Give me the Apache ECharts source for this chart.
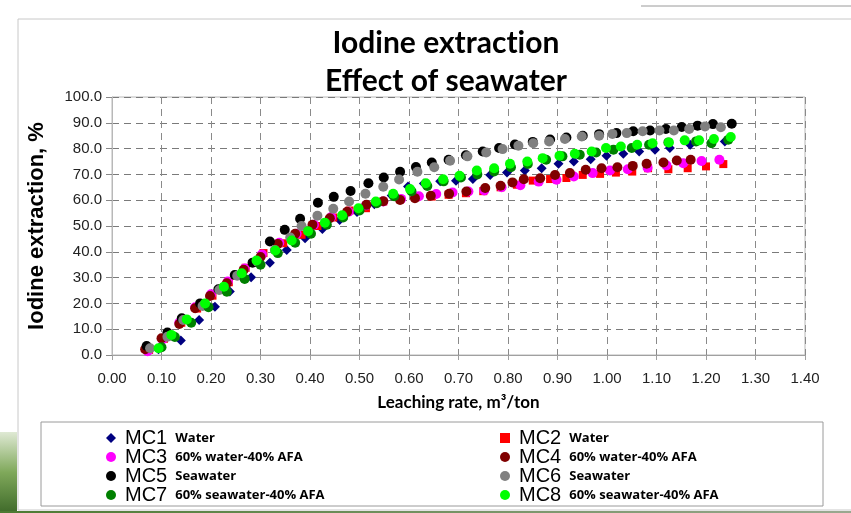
<!DOCTYPE html>
<html lang="en">
<head>
    <meta charset="utf-8">
    <title>Iodine extraction</title>
    <script src="https://cdn.jsdelivr.net/npm/echarts@6/dist/echarts.min.js"></script>
    <style>
        html, body { margin: 0; padding: 0; background: #fff; }
        #container { width: 851px; height: 513px; }
    </style>
</head>
<body>
<div id="container"></div>
<script>
    const seriesNames = ["MC1", "MC2", "MC3", "MC4", "MC5", "MC6", "MC7", "MC8"];
    const seriesNotes = ["Water", "Water", "60% water-40% AFA", "60% water-40% AFA",
        "Seawater", "Seawater", "60% seawater-40% AFA", "60% seawater-40% AFA"];
    const seriesColors = ["#000080", "#ff0000", "#ff00ff", "#800000", "#000000", "#808080", "#008000", "#00ff00"];
    const seriesSymbols = ["diamond", "rect", "circle", "circle", "circle", "circle", "circle", "circle"];

    // [leaching rate m3/ton, iodine extraction %]
    const mc1 = [[0.094, 2.2], [0.139, 5.6], [0.176, 13.6], [0.208, 18.7], [0.238, 24.6], [0.281, 30.1], [0.319, 35.8],
        [0.353, 40.7], [0.39, 45.3], [0.425, 48.8], [0.46, 52.3], [0.495, 55.4], [0.53, 58.4], [0.565, 61.8], [0.598, 65.3],
        [0.63, 66.5], [0.663, 67.3], [0.695, 67.5], [0.729, 68.2], [0.764, 69.8], [0.798, 70.7], [0.834, 71.5], [0.868, 72.4],
        [0.902, 74.1], [0.933, 75.0], [0.967, 75.9], [0.999, 77.2], [1.033, 78.0], [1.065, 78.9], [1.097, 79.6], [1.127, 80.2],
        [1.168, 81.5], [1.211, 82.4], [1.238, 82.8]];
    const mc2 = [[0.075, 2.0], [0.105, 6.3], [0.14, 12.5], [0.172, 18.0], [0.203, 23.0], [0.236, 28.2], [0.27, 33.8],
        [0.306, 39.5], [0.346, 43.3], [0.383, 46.6], [0.415, 50.0], [0.447, 53.3], [0.48, 56.0], [0.513, 56.9], [0.548, 59.5],
        [0.582, 60.4], [0.614, 61.2], [0.646, 61.4], [0.68, 62.1], [0.715, 62.7], [0.75, 63.5], [0.785, 65.0], [0.818, 66.0],
        [0.85, 67.6], [0.885, 68.2], [0.918, 68.6], [0.951, 69.8], [0.986, 70.2], [1.018, 70.7], [1.051, 71.1], [1.083, 72.4],
        [1.124, 72.0], [1.163, 72.4], [1.2, 73.1], [1.235, 74.0]];
    const mc3 = [[0.072, 1.5], [0.102, 6.0], [0.136, 12.5], [0.168, 18.5], [0.2, 23.5], [0.234, 28.5], [0.268, 33.5],
        [0.303, 39.0], [0.338, 43.5], [0.373, 47.0], [0.408, 50.5], [0.443, 53.5], [0.478, 55.5], [0.513, 58.0], [0.548, 59.5],
        [0.584, 60.5], [0.62, 61.5], [0.655, 62.4], [0.688, 63.0], [0.72, 63.4], [0.752, 63.8], [0.787, 65.0], [0.825, 65.8],
        [0.862, 67.2], [0.898, 67.9], [0.933, 69.2], [0.971, 70.5], [1.006, 71.5], [1.042, 72.0], [1.082, 72.6], [1.12, 73.5],
        [1.154, 74.3], [1.191, 75.2], [1.227, 75.7]];
    const mc4 = [[0.067, 2.2], [0.1, 6.5], [0.136, 12.0], [0.168, 18.1], [0.198, 22.9], [0.232, 27.8], [0.266, 33.0],
        [0.3, 38.0], [0.335, 43.0], [0.37, 47.0], [0.405, 50.5], [0.44, 53.0], [0.475, 55.5], [0.514, 58.2], [0.548, 59.6],
        [0.582, 60.1], [0.612, 60.8], [0.644, 61.7], [0.681, 62.5], [0.716, 63.4], [0.754, 64.7], [0.785, 65.6], [0.809, 66.9],
        [0.832, 68.1], [0.865, 68.5], [0.895, 69.8], [0.925, 70.5], [0.957, 71.8], [0.989, 72.4], [1.021, 72.8], [1.052, 73.3],
        [1.08, 74.1], [1.114, 74.6], [1.141, 75.4], [1.169, 75.7]];
    const mc5 = [[0.07, 3.5], [0.112, 8.7], [0.141, 14.2], [0.178, 20.0], [0.215, 25.5], [0.248, 31.0], [0.284, 35.8],
        [0.319, 44.0], [0.349, 48.5], [0.38, 52.8], [0.416, 59.0], [0.448, 61.3], [0.482, 63.6], [0.518, 66.6], [0.549, 68.8],
        [0.582, 71.0], [0.614, 72.9], [0.646, 74.6], [0.68, 75.7], [0.715, 77.4], [0.749, 78.9], [0.782, 80.2], [0.814, 81.6],
        [0.85, 82.6], [0.885, 83.5], [0.918, 84.3], [0.951, 85.0], [0.984, 85.6], [1.019, 86.0], [1.053, 86.7], [1.087, 87.0],
        [1.119, 87.6], [1.151, 88.4], [1.183, 88.9], [1.214, 89.5], [1.252, 89.6]];
    const mc6 = [[0.077, 2.6], [0.112, 7.1], [0.144, 13.6], [0.183, 19.0], [0.217, 25.2], [0.253, 30.7], [0.294, 36.2],
        [0.329, 40.7], [0.36, 45.5], [0.383, 50.0], [0.415, 54.0], [0.447, 56.7], [0.479, 59.5], [0.512, 62.5], [0.548, 65.2],
        [0.58, 68.0], [0.617, 71.0], [0.651, 72.8], [0.683, 75.3], [0.718, 77.0], [0.756, 78.5], [0.789, 79.8], [0.821, 81.1],
        [0.851, 82.1], [0.883, 82.8], [0.915, 83.7], [0.949, 84.7], [0.984, 85.0], [1.011, 85.7], [1.04, 86.0], [1.072, 86.7],
        [1.106, 87.0], [1.135, 87.0], [1.166, 87.6], [1.198, 88.6], [1.23, 88.3]];
    const mc7 = [[0.1, 3.0], [0.127, 7.0], [0.16, 12.5], [0.195, 18.5], [0.232, 24.5], [0.268, 29.5], [0.3, 35.0],
        [0.335, 39.5], [0.37, 43.5], [0.402, 47.0], [0.434, 50.5], [0.467, 53.3], [0.5, 56.0], [0.535, 58.8], [0.57, 61.5],
        [0.605, 63.5], [0.637, 65.5], [0.67, 67.3], [0.705, 68.8], [0.738, 70.0], [0.772, 71.1], [0.806, 72.8], [0.84, 74.0],
        [0.877, 75.7], [0.91, 77.0], [0.945, 77.6], [0.978, 78.5], [1.013, 79.6], [1.05, 80.2], [1.085, 81.5], [1.124, 82.4],
        [1.18, 82.8], [1.211, 82.1], [1.245, 83.4]];
    const mc8 = [[0.094, 2.6], [0.12, 7.8], [0.151, 13.8], [0.188, 20.0], [0.226, 26.5], [0.262, 31.7], [0.292, 36.6],
        [0.33, 40.5], [0.363, 44.4], [0.396, 48.0], [0.43, 51.3], [0.465, 54.2], [0.498, 56.9], [0.533, 59.5], [0.568, 62.5],
        [0.602, 64.3], [0.634, 66.6], [0.669, 68.1], [0.702, 69.5], [0.737, 71.5], [0.772, 72.4], [0.804, 74.1], [0.839, 75.0],
        [0.87, 76.3], [0.904, 77.2], [0.935, 78.0], [0.969, 78.9], [0.998, 80.2], [1.028, 80.8], [1.061, 81.5], [1.092, 82.1],
        [1.125, 82.4], [1.157, 83.2], [1.186, 83.2], [1.216, 83.7], [1.25, 84.5]];

    const seriesData = [mc1, mc2, mc3, mc4, mc5, mc6, mc7, mc8];

    const legendRich = {
        a: {
            fontFamily: "Liberation Sans Narrow, Liberation Sans, sans-serif",
            fontSize: 20,
            color: "#000",
            lineHeight: 19,
            padding: [0, 0, 0, 4]
        },
        b: {
            fontFamily: "Open Sans, sans-serif",
            fontWeight: "bold",
            fontSize: 13,
            color: "#000",
            lineHeight: 19,
            padding: [0, 0, 0, 8]
        }
    };

    function makeLegend(left, names) {
        return {
            orient: "vertical",
            left: left,
            top: 428,
            padding: 0,
            itemGap: -1,
            itemWidth: 10,
            itemHeight: 10,
            data: names,
            selectedMode: false,
            formatter: name => `{a|${name}}{b|${seriesNotes[seriesNames.indexOf(name)]}}`,
            textStyle: { lineHeight: 19, rich: legendRich }
        };
    }

    const series = seriesNames.map((name, i) => ({
        name: name,
        type: "scatter",
        data: seriesData[i],
        symbol: seriesSymbols[i],
        symbolSize: i === 1 ? 8 : 10,
        itemStyle: { color: seriesColors[i], opacity: 1 },
        emphasis: { disabled: true }
    }));

    const titleFont = {
        fontFamily: "Lato, sans-serif",
        fontWeight: "bold",
        fontSize: 30,
        lineHeight: 38,
        color: "#000"
    };

    const option = {
        animation: false,
        backgroundColor: "#fff",
        title: {
            // "t" and "i" go in separate tokens so they are not drawn as a ligature
            text: "{t|Iodine extract}{t|ion}\n{t|Effect of seawater}",
            left: 441,
            textAlign: "center",
            top: 19,
            textStyle: Object.assign({ rich: { t: titleFont } }, titleFont)
        },
        legend: [
            makeLegend(106, ["MC1", "MC3", "MC5", "MC7"]),
            makeLegend(500, ["MC2", "MC4", "MC6", "MC8"])
        ],
        grid: {
            left: 112,
            right: 46,
            top: 97,
            bottom: 158,
            show: true,
            borderColor: "#b8b8b8",
            borderWidth: 1
        },
        xAxis: {
            type: "value",
            min: 0,
            max: 1.4,
            interval: 0.1,
            name: "Leaching rate, m\u00b3/ton",
            nameLocation: "middle",
            nameGap: 39,
            nameTextStyle: {
                fontFamily: "Lato, sans-serif",
                fontWeight: "bold",
                fontSize: 17,
                color: "#000"
            },
            axisLine: { lineStyle: { color: "#a0a0a0" } },
            axisTick: { show: true, length: 5, lineStyle: { color: "#a0a0a0" } },
            axisLabel: {
                formatter: v => v.toFixed(2),
                fontFamily: "Liberation Sans, Arial, sans-serif",
                fontSize: 15,
                color: "#222",
                margin: 16
            },
            splitLine: { show: true, lineStyle: { color: "#8a8a8a", type: [7, 5] } }
        },
        yAxis: {
            type: "value",
            min: 0,
            max: 100,
            interval: 10,
            name: "Iodine extraction, %",
            nameLocation: "middle",
            nameGap: 64,
            nameTextStyle: {
                fontFamily: "Liberation Sans, Arial, sans-serif",
                fontWeight: "bold",
                fontSize: 22,
                color: "#000"
            },
            axisLine: { show: true, lineStyle: { color: "#b8b8b8" } },
            axisTick: { show: true, length: 6, lineStyle: { color: "#888" } },
            axisLabel: {
                formatter: v => v.toFixed(1),
                fontFamily: "Liberation Sans, Arial, sans-serif",
                fontSize: 15,
                color: "#222",
                margin: 10
            },
            splitLine: { show: true, lineStyle: { color: "#7a7a7a", type: [7, 5] } }
        },
        graphic: [
            { type: "rect", shape: { x: 18, y: 19, width: 840, height: 491 }, style: { fill: "none", stroke: "#c8c8c8", lineWidth: 1 }, silent: true },
            { type: "line", shape: { x1: 641, y1: 6, x2: 851, y2: 6 }, style: { stroke: "#9a9a9a", lineWidth: 1 }, silent: true },
            { type: "rect", shape: { x: 41, y: 422, width: 782, height: 84 }, style: { fill: "none", stroke: "#9a9a9a", lineWidth: 1 }, silent: true },
            {
                type: "rect", shape: { x: 0, y: 432, width: 17, height: 81 }, silent: true,
                style: {
                    fill: new echarts.graphic.LinearGradient(0, 0, 0, 1, [
                        { offset: 0, color: "#dfe9d4" },
                        { offset: 0.5, color: "#7fa85a" },
                        { offset: 1, color: "#3f6a2a" }
                    ])
                }
            },
            {
                type: "rect", shape: { x: 0, y: 511, width: 851, height: 2 }, silent: true,
                style: {
                    fill: new echarts.graphic.LinearGradient(0, 0, 1, 0, [
                        { offset: 0, color: "#4c7a32" },
                        { offset: 1, color: "#9aa890" }
                    ])
                }
            }
        ],
        series: series
    };

    let chart = echarts.init(document.getElementById("container"));
    chart.setOption(option);
</script>
</body>
</html>
